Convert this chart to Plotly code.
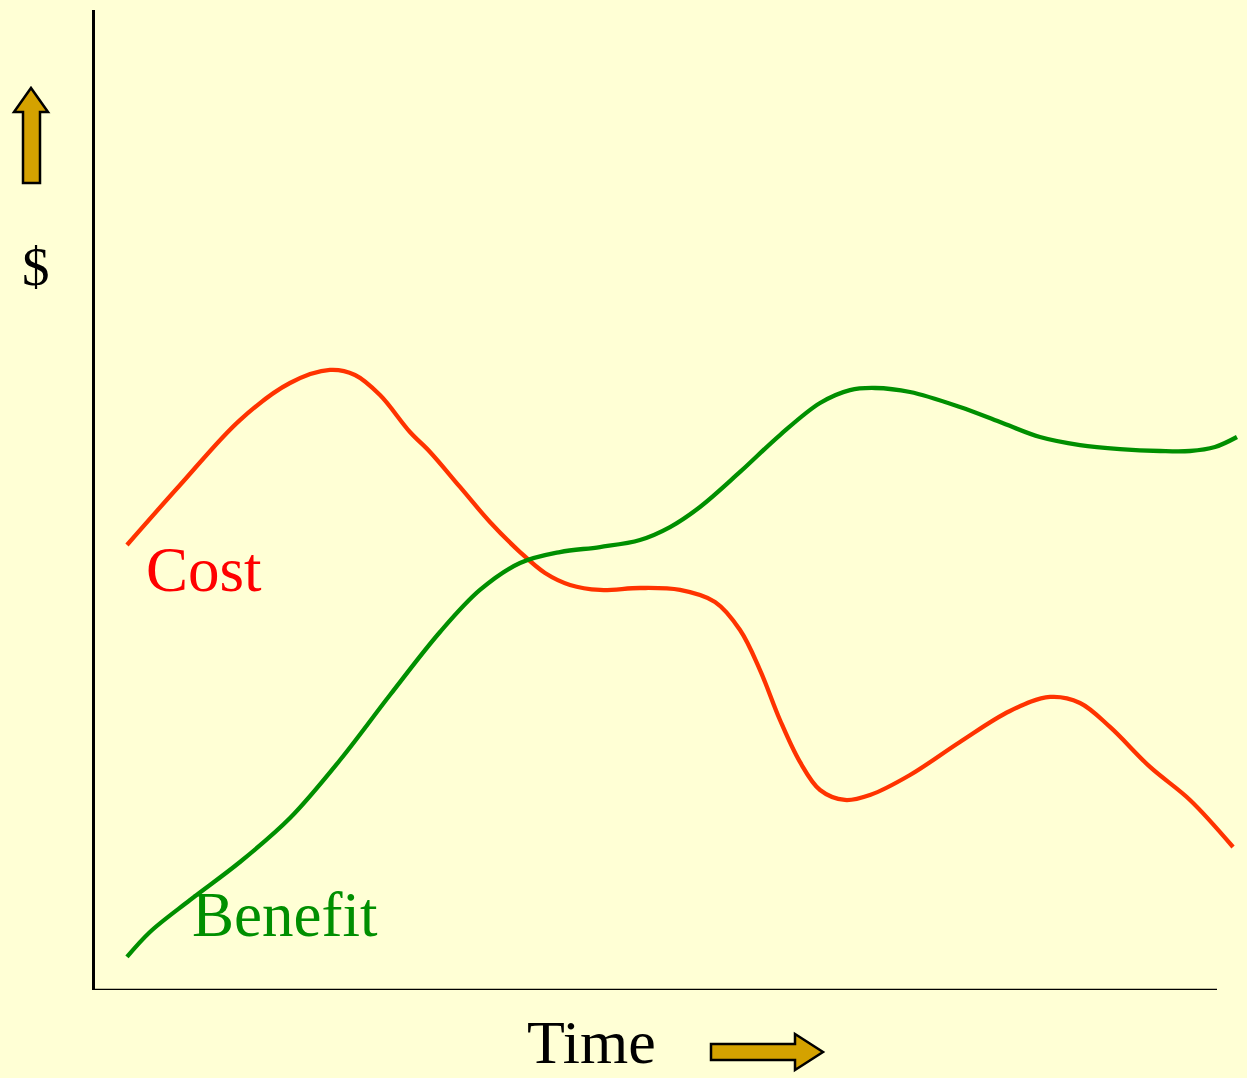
import plotly.graph_objects as go

# ---- data (arbitrary units: time 0..100, dollars 0..100) ----
cost_t = [2.85, 7.58, 12.92, 17.38, 20.94, 23.17, 25.40, 28.07, 29.86, 32.53, 35.20, 37.88,
          40.11, 42.34, 45.01, 48.57, 52.14, 55.26, 57.49, 59.27, 61.05, 62.83, 64.62, 66.84,
          69.07, 72.64, 77.09, 81.55, 85.12, 87.79, 90.46, 94.03, 97.59, 101.43]
cost_v = [45.41, 51.53, 58.16, 61.94, 63.27, 62.76, 60.71, 56.94, 54.90, 51.33, 47.76, 44.69,
          42.55, 41.33, 40.82, 41.02, 40.82, 39.59, 36.73, 32.65, 27.55, 23.27, 20.41, 19.39,
          19.90, 21.94, 25.31, 28.47, 29.90, 29.29, 26.84, 22.76, 19.39, 14.59]

benefit_t = [2.85, 4.90, 8.47, 12.92, 17.38, 21.84, 26.29, 30.75, 34.31, 37.88, 41.44, 45.01,
             48.57, 51.25, 53.92, 57.49, 61.05, 64.62, 67.29, 69.52, 72.64, 77.09, 80.66, 84.22,
             87.79, 91.35, 94.92, 97.59, 99.82, 101.78]
benefit_v = [3.37, 5.92, 9.18, 13.06, 17.55, 23.47, 30.10, 36.53, 40.82, 43.57, 44.69, 45.20,
             45.92, 47.24, 49.29, 52.86, 56.63, 59.90, 61.22, 61.43, 61.02, 59.49, 57.96, 56.43,
             55.61, 55.20, 55.00, 55.00, 55.41, 56.43]

labels = {"cost": "Cost", "benefit": "Benefit", "y": "$", "x": "Time"}

# ---- layout constants (pixels) ----
W, H = 1247, 1078
ML, MR, MT, MB = 95, 0, 10, 88
PW, PH = W - ML - MR, H - MT - MB
BG = "#FFFFD5"
RED_LINE = "#FF3300"
RED_TEXT = "#FF0000"
GREEN = "#008F00"
GOLD = "#D4A200"
FONT = "Liberation Serif, Times New Roman, serif"

def px2paper(x, y):
    return (x - ML) / PW, (H - MB - y) / PH

def poly_path(pts):
    coords = [px2paper(x, y) for x, y in pts]
    return "M " + " L ".join(f"{a:.5f},{b:.5f}" for a, b in coords) + " Z"

fig = go.Figure()
fig.add_trace(go.Scatter(x=cost_t, y=cost_v, mode="lines",
                         line=dict(color=RED_LINE, width=4.3, shape="spline", smoothing=1.0),
                         hoverinfo="skip", showlegend=False))
fig.add_trace(go.Scatter(x=benefit_t, y=benefit_v, mode="lines",
                         line=dict(color=GREEN, width=4.3, shape="spline", smoothing=1.0),
                         hoverinfo="skip", showlegend=False))

# bottom axis line (ends before the right edge)
fig.add_shape(type="line", xref="x", yref="y", x0=0, x1=100, y0=0, y1=0,
              line=dict(color="black", width=2.5))

# arrows
up_arrow = [(23, 183), (40, 183), (40, 112), (48, 112), (31, 88), (14, 112), (23, 112)]
right_arrow = [(711, 1044), (795, 1044), (795, 1034), (823, 1052), (795, 1070), (795, 1060), (711, 1060)]
for pts in (up_arrow, right_arrow):
    fig.add_shape(type="path", xref="paper", yref="paper", path=poly_path(pts),
                  fillcolor=GOLD, line=dict(color="black", width=2.5), layer="above")

# text labels
fig.add_annotation(x=4.37, y=42.86, xref="x", yref="y", text=labels["cost"], showarrow=False,
                   xanchor="left", yanchor="middle", font=dict(family=FONT, size=63, color=RED_TEXT))
fig.add_annotation(x=8.47, y=7.65, xref="x", yref="y", text=labels["benefit"], showarrow=False,
                   xanchor="left", yanchor="middle", font=dict(family=FONT, size=63, color=GREEN))
sx, sy = px2paper(36, 266)
fig.add_annotation(x=sx, y=sy, xref="paper", yref="paper", text=labels["y"], showarrow=False,
                   xanchor="center", yanchor="middle", font=dict(family=FONT, size=55, color="black"))
tx, ty = px2paper(591, 1042)
fig.add_annotation(x=tx, y=ty, xref="paper", yref="paper", text=labels["x"], showarrow=False,
                   xanchor="center", yanchor="middle", font=dict(family=FONT, size=62, color="black"))

fig.update_layout(
    width=W, height=H,
    margin=dict(l=ML, r=MR, t=MT, b=MB, pad=0),
    paper_bgcolor=BG, plot_bgcolor=BG,
    xaxis=dict(range=[0, PW / 11.22], showgrid=False, zeroline=False, showticklabels=False,
               ticks="", showline=False, fixedrange=True),
    yaxis=dict(range=[0, 100], showgrid=False, zeroline=False, showticklabels=False,
               ticks="", showline=True, linecolor="black", linewidth=2.5, fixedrange=True),
    showlegend=False,
)

fig.write_html("out.html", config={"displayModeBar": False},
               post_script="document.body.style.margin='0';document.body.style.overflow='hidden';document.body.style.background='" + BG + "';")
